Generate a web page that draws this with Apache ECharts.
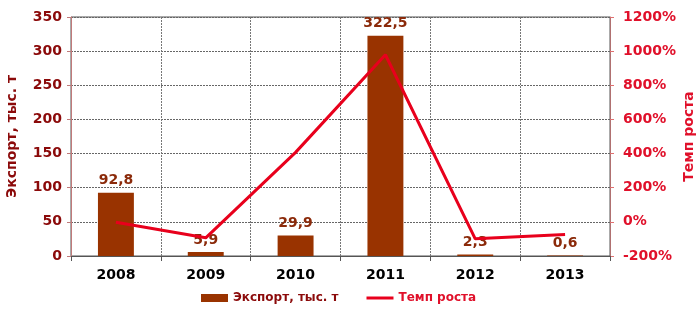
<!DOCTYPE html>
<html><head><meta charset="utf-8">
<script src="https://cdn.jsdelivr.net/npm/echarts@6/dist/echarts.min.js"></script>
<style>html,body{margin:0;padding:0;background:#fff}#c{width:700px;height:313px}</style>
</head><body><div id="c"></div>
<script>
const years = ['2008','2009','2010','2011','2012','2013'];
const exportVals = [92.8, 5.9, 29.9, 322.5, 2.3, 0.6];
const growthVals = [-2, -93.6, 407, 979, -99.3, -73.9];
const leftTicks = {min: 0, max: 350, interval: 50};
const rightTicks = {min: -200, max: 1200, interval: 200};

const F = 'DejaVu Sans';
const chart = echarts.init(document.getElementById('c'), null, {renderer: 'canvas'});
chart.setOption({
  animation: false,
  grid: {left: 71, right: 90, top: 17, bottom: 57, outerBoundsMode: 'none', containLabel: false,
    show: true, borderColor: '#555', borderWidth: 1, backgroundColor: 'transparent'},
  legend: {
    bottom: 4, left: 196, itemGap: 28, itemWidth: 27, itemHeight: 8,
    textStyle: {fontFamily: F, fontWeight: 'bold', fontSize: 12},
    data: [
      {name: 'Экспорт, тыс. т', icon: 'rect', textStyle: {color: '#8b0a0a'}},
      {name: 'Темп роста', icon: 'path://M0,0 L27,0 L27,3 L0,3 Z', itemHeight: 3, textStyle: {color: '#e0102a'}}
    ]
  },
  xAxis: {
    type: 'category', data: years, boundaryGap: true,
    axisLine: {lineStyle: {color: '#555'}},
    axisTick: {show: true, length: 5, lineStyle: {color: '#555'}},
    axisLabel: {color: '#000', fontFamily: F, fontWeight: 'bold', fontSize: 14, margin: 12},
    splitLine: {show: true, lineStyle: {type: [2, 1], color: '#777'}}
  },
  yAxis: [
    {
      type: 'value', min: leftTicks.min, max: leftTicks.max, interval: leftTicks.interval,
      name: 'Экспорт, тыс. т', nameLocation: 'middle', nameGap: 52, nameRotate: 90, nameMoveOverlap: false,
      nameTextStyle: {color: '#8b0a0a', fontFamily: F, fontWeight: 'bold', fontSize: 14},
      axisLine: {show: true, lineStyle: {color: '#c07a7a'}},
      axisTick: {show: true, length: 4, lineStyle: {color: '#c07a7a'}},
      axisLabel: {color: '#8b0a0a', fontFamily: F, fontWeight: 'bold', fontSize: 14, margin: 9},
      splitLine: {show: true, lineStyle: {type: [2, 1], color: '#666'}}
    },
    {
      type: 'value', min: rightTicks.min, max: rightTicks.max, interval: rightTicks.interval,
      name: 'Темп роста', nameLocation: 'middle', nameGap: 72, nameRotate: 90, nameMoveOverlap: false,
      nameTextStyle: {color: '#e0102a', fontFamily: F, fontWeight: 'bold', fontSize: 14},
      axisLine: {show: true, lineStyle: {color: '#b07070'}},
      axisTick: {show: true, length: 4, lineStyle: {color: '#e07070'}},
      axisLabel: {color: '#e0102a', fontFamily: F, fontWeight: 'bold', fontSize: 14, margin: 13,
        formatter: v => v + '%'},
      splitLine: {show: false}
    }
  ],
  series: [
    {
      name: 'Экспорт, тыс. т', type: 'bar', data: exportVals, barWidth: '40%', yAxisIndex: 0,
      itemStyle: {color: '#993300'},
      label: {show: true, position: 'top', distance: 5, color: '#8b2a0a', fontFamily: F, fontWeight: 'bold', fontSize: 14,
        formatter: p => String(p.value).replace('.', ',')}
    },
    {
      name: 'Темп роста', type: 'line', data: growthVals, yAxisIndex: 1,
      showSymbol: false, symbol: 'none', lineStyle: {color: '#e8001c', width: 3}, itemStyle: {color: '#e8001c'}, z: 5
    }
  ]
});
</script></body></html>
